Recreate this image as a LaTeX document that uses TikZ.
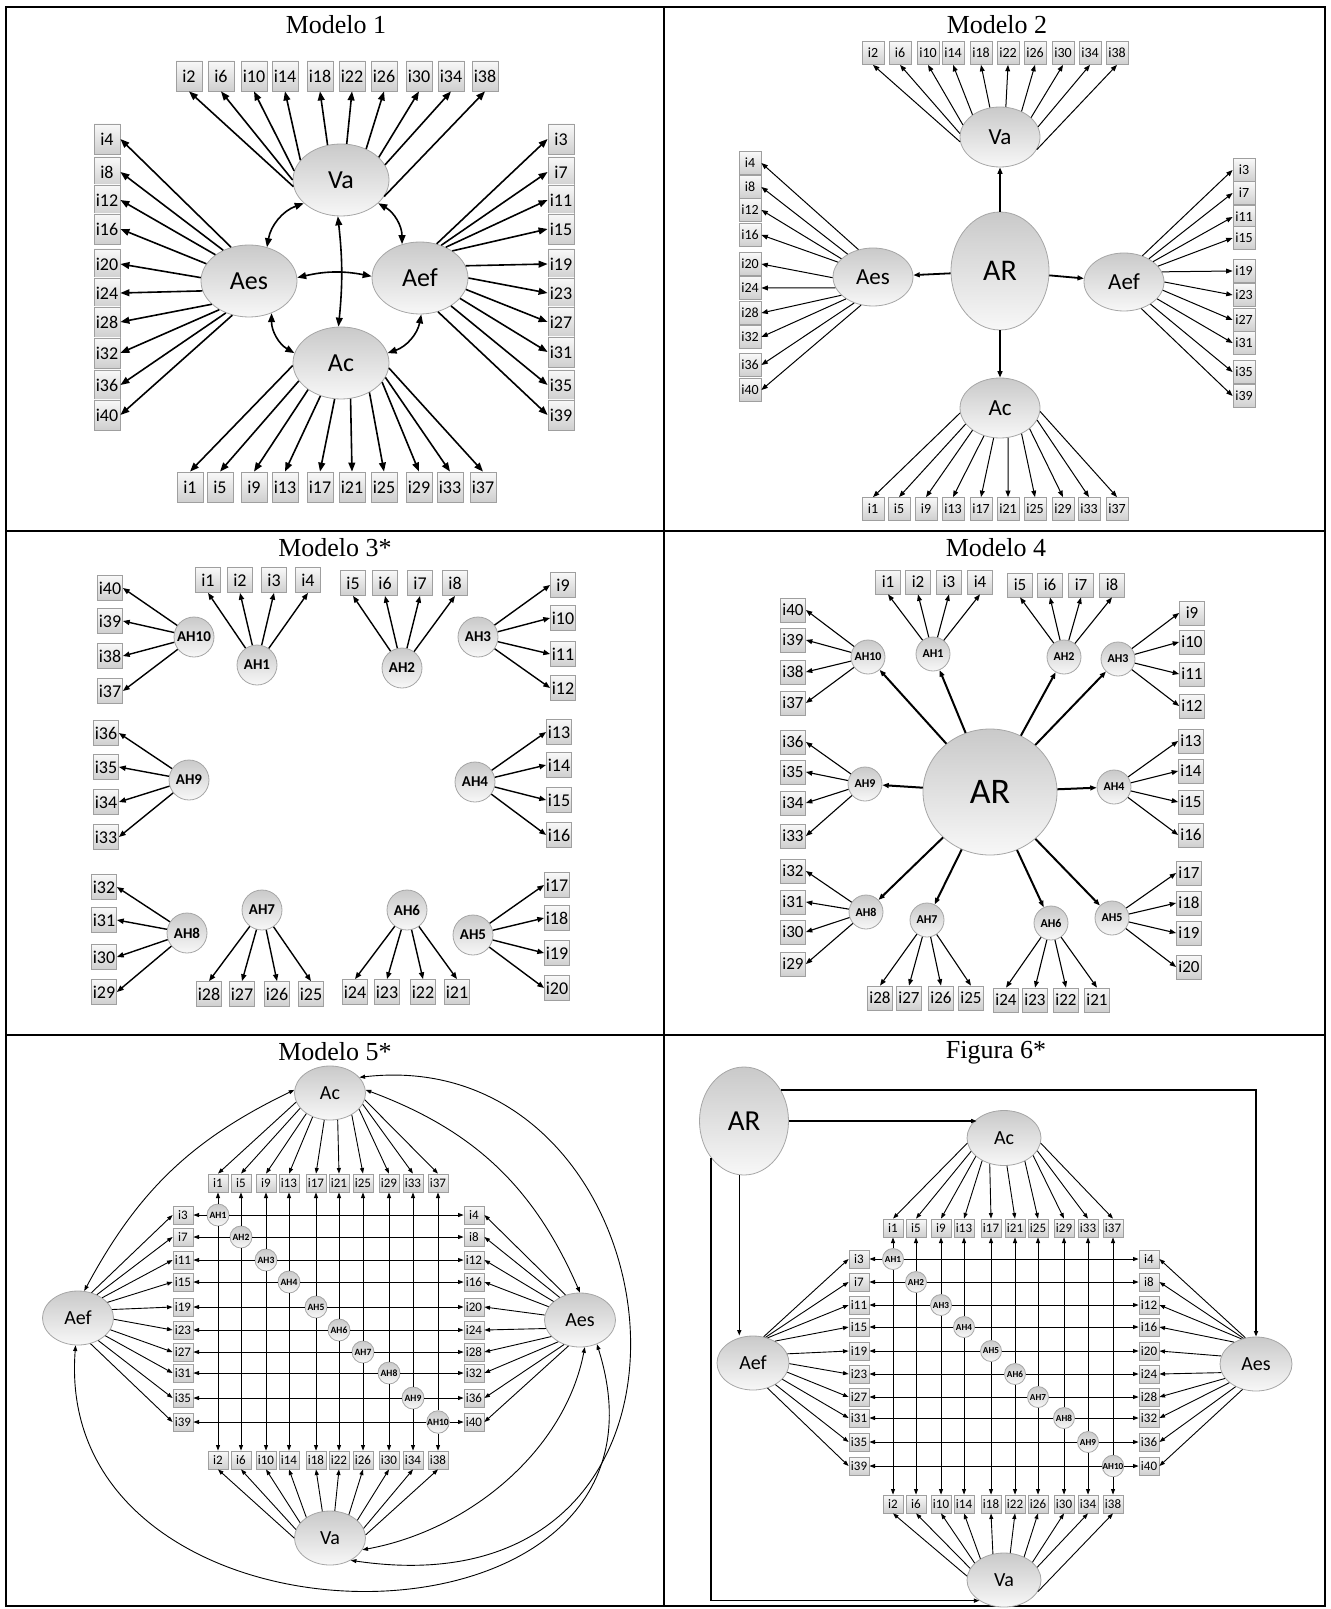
\documentclass[tikz,border=0pt]{standalone}
\usepackage{fontspec}
\setmainfont{Liberation Serif}
\newfontfamily\calib{Carlito}
\usetikzlibrary{arrows.meta,shapes.geometric}

\tikzset{
  lat/.style={ellipse, draw=gray!70, top color=gray!42, bottom color=gray!6, inner sep=0pt, line width=0.4pt},
  obs/.style={rectangle, draw=gray!75, top color=gray!5, bottom color=gray!38, inner sep=0pt, line width=0.4pt},
  ahc/.style={circle, draw=gray!70, top color=gray!42, bottom color=gray!6, inner sep=0pt, line width=0.4pt},
  ptitle/.style={font=\fontsize{13}{15}\selectfont},
  frame/.style={line width=1.3pt},
  ld/.style={->, black},
  cov/.style={<->, black},
  arr/.style={->, black},
}

\begin{document}
\begin{tikzpicture}[x=0.5pt, y=-0.5pt]
\useasboundingbox (0,0) rectangle (1330,1609);

% table frame
\draw[frame] (6,7) rectangle (1325,1606);
\draw[frame] (664,7) -- (664,1606);
\draw[frame] (6,531) -- (1325,531) (6,1035) -- (1325,1035);

% ---- Modelo 1 ----
\begin{scope}[>={Triangle[length=4.5pt,width=3.4pt]},
    ld/.append style={line width=0.8pt}, cov/.append style={line width=0.8pt},
    lat/.append style={minimum width=48pt, minimum height=36pt, font=\calib\fontsize{13}{15}\selectfont},
    obs/.append style={minimum width=13pt, minimum height=15pt, font=\calib\fontsize{9}{10}\selectfont}]
  \node[ptitle] (t1) at (336,25) {Modelo 1};
  \node[lat] (m1va) at (341,180) {Va};
  \node[lat] (m1aes) at (249,281) {Aes};
  \node[lat] (m1aef) at (420,278) {Aef};
  \node[lat] (m1ac) at (341,363) {Ac};
  \foreach \n/\x/\a in {2/189/188, 6/221/180, 10/254/169, 14/285/154, 18/320/111, 22/352/81, 26/384/51, 30/419/31, 34/451/19, 38/485/339} {
    \node[obs] (m1i\n) at (\x,76) {i\n};
    \draw[ld] (m1va.\a) -- (m1i\n.south);
  }
  \foreach \n/\y/\a in {4/139/118, 8/172/130, 12/200/142, 16/229/158, 20/264/176, 24/293/192, 28/322/212, 32/353/224, 36/385/234, 40/415/244} {
    \node[obs] (m1i\n) at (107,\y) {i\n};
    \draw[ld] (m1aes.\a) -- (m1i\n.east);
  }
  \foreach \n/\y/\a in {3/139/64, 7/172/57, 11/200/50, 15/229/40, 19/264/15, 23/293/0, 27/322/346, 31/352/333, 35/385/318, 39/415/298} {
    \node[obs] (m1i\n) at (561,\y) {i\n};
    \draw[ld] (m1aef.\a) -- (m1i\n.west);
  }
  \foreach \n/\x/\a in {1/190/183, 5/220/203, 9/254/219, 13/285/238, 17/320/260, 21/352/285, 25/384/314, 29/419/335, 33/450/342, 37/483/354} {
    \node[obs] (m1i\n) at (\x,487) {i\n};
    \draw[ld] (m1ac.\a) -- (m1i\n.north);
  }
  \draw[cov] (m1va.212) to[bend right=30] (m1aes.62);
  \draw[cov] (m1va.328) to[bend left=30] (m1aef.118);
  \draw[cov] (m1aes.4) to[bend left=12] (m1aef.178);
  \draw[cov] (m1aes.305) to[bend right=30] (m1ac.168);
  \draw[cov] (m1aef.272) to[bend left=30] (m1ac.12);
  \draw[cov] (m1va.265) to[bend left=6] (m1ac.94);
\end{scope}

% ---- Modelo 2 ----
\begin{scope}[>={Triangle[length=3.2pt,width=2.4pt]},
    ld/.append style={line width=0.5pt}, arr/.append style={line width=0.9pt},
    lat/.append style={minimum width=40pt, minimum height=29pt, font=\calib\fontsize{11.5}{13}\selectfont},
    obs/.append style={minimum width=11pt, minimum height=11.5pt, font=\calib\fontsize{7}{8}\selectfont}]
  \node[ptitle] (t2) at (997,25) {Modelo 2};
  \node[lat, minimum height=30pt] (m2va) at (1000,137) {Va};
  \node[lat, minimum width=49pt, minimum height=59pt, font=\calib\fontsize{15}{17}\selectfont] (m2ar) at (1000,271) {AR};
  \node[lat] (m2aes) at (873,277) {Aes};
  \node[lat] (m2aef) at (1124,282) {Aef};
  \node[lat, minimum height=30pt] (m2ac) at (1000,408) {Ac};
  \draw[arr] (m2ar) -- (m2va);
  \draw[arr] (m2ar) -- (m2aes);
  \draw[arr] (m2ar) -- (m2aef);
  \draw[arr] (m2ar) -- (m2ac);
  \foreach \n/\x/\a in {2/873/187, 6/900/175, 10/928/162, 14/953/141, 18/981/109, 22/1008/79, 26/1035/50, 30/1063/32, 34/1090/15, 38/1117/341} {
    \node[obs] (m2i\n) at (\x,53) {i\n};
    \draw[ld] (m2va.\a) -- (m2i\n.south);
  }
  \foreach \n/\y/\a in {4/163/118, 8/187/138, 12/210/150, 16/235/157, 20/264/181, 24/288/196, 28/313/210, 32/337/219, 36/365/234, 40/390/247} {
    \node[obs] (m2i\n) at (750,\y) {i\n};
    \draw[ld] (m2aes.\a) -- (m2i\n.east);
  }
  \foreach \n/\y/\a in {3/170/55, 7/193/43, 11/217/35, 15/238/25, 19/271/15, 23/295/0, 27/320/348, 31/343/333, 35/372/320, 39/396/303} {
    \node[obs] (m2i\n) at (1244,\y) {i\n};
    \draw[ld] (m2aef.\a) -- (m2i\n.west);
  }
  \foreach \n/\x/\a in {1/873/187, 5/899/205, 9/926/219, 13/953/240, 17/981/258, 21/1008/285, 25/1035/310, 29/1063/325, 33/1089/342, 37/1117/355} {
    \node[obs] (m2i\n) at (\x,509) {i\n};
    \draw[ld] (m2ac.\a) -- (m2i\n.north);
  }
\end{scope}

% ---- Modelo 3 ----
\begin{scope}[>={Triangle[length=3.4pt,width=2.6pt]},
    ld/.append style={line width=0.7pt},
    obs/.append style={minimum width=12.5pt, minimum height=12.5pt, font=\calib\fontsize{9}{10}\selectfont},
    ahc/.append style={minimum size=20pt, font=\calib\bfseries\fontsize{7.5}{8}\selectfont}]
  \node[ptitle] (t3) at (335,548) {Modelo 3*};
  \node[ahc] (m3ah1) at (257,665) {AH1};
  \node[ahc] (m3ah2) at (402,668) {AH2};
  \node[ahc] (m3ah3) at (478,637) {AH3};
  \node[ahc] (m3ah4) at (475,782) {AH4};
  \node[ahc] (m3ah5) at (473,935) {AH5};
  \node[ahc] (m3ah6) at (407,910) {AH6};
  \node[ahc] (m3ah7) at (262,910) {AH7};
  \node[ahc] (m3ah8) at (187,933) {AH8};
  \node[ahc] (m3ah9) at (189,780) {AH9};
  \node[ahc] (m3ah10) at (194,637) {AH10};
  \foreach \n/\x in {1/208, 2/240, 3/274, 4/308}
    {\node[obs] (m3i\n) at (\x,580) {i\n}; \draw[ld] (m3ah1) -- (m3i\n.south);}
  \foreach \n/\x in {5/353, 6/385, 7/420, 8/455}
    {\node[obs] (m3i\n) at (\x,583) {i\n}; \draw[ld] (m3ah2) -- (m3i\n.south);}
  \foreach \n/\y in {9/585, 10/618, 11/654, 12/688}
    {\node[obs] (m3i\n) at (563,\y) {i\n}; \draw[ld] (m3ah3) -- (m3i\n.west);}
  \foreach \n/\y in {13/732, 14/765, 15/800, 16/835}
    {\node[obs] (m3i\n) at (559,\y) {i\n}; \draw[ld] (m3ah4) -- (m3i\n.west);}
  \foreach \n/\y in {17/885, 18/918, 19/953, 20/988}
    {\node[obs] (m3i\n) at (557,\y) {i\n}; \draw[ld] (m3ah5) -- (m3i\n.west);}
  \foreach \n/\x in {21/457, 22/423, 23/387, 24/355}
    {\node[obs] (m3i\n) at (\x,992) {i\n}; \draw[ld] (m3ah6) -- (m3i\n.north);}
  \foreach \n/\x in {25/311, 26/277, 27/242, 28/209}
    {\node[obs] (m3i\n) at (\x,994) {i\n}; \draw[ld] (m3ah7) -- (m3i\n.north);}
  \foreach \n/\y in {29/992, 30/957, 31/920, 32/887}
    {\node[obs] (m3i\n) at (104,\y) {i\n}; \draw[ld] (m3ah8) -- (m3i\n.east);}
  \foreach \n/\y in {33/837, 34/802, 35/767, 36/733}
    {\node[obs] (m3i\n) at (106,\y) {i\n}; \draw[ld] (m3ah9) -- (m3i\n.east);}
  \foreach \n/\y in {37/691, 38/656, 39/621, 40/588}
    {\node[obs] (m3i\n) at (110,\y) {i\n}; \draw[ld] (m3ah10) -- (m3i\n.east);}
\end{scope}

% ---- Modelo 4 ----
\begin{scope}[>={Triangle[length=3.2pt,width=2.4pt]},
    ld/.append style={line width=0.55pt}, arr/.append style={line width=1pt},
    obs/.append style={minimum width=12.5pt, minimum height=12pt, font=\calib\fontsize{8.5}{10}\selectfont},
    ahc/.append style={minimum size=17pt, font=\calib\bfseries\fontsize{6}{7}\selectfont}]
  \node[ptitle] (t4) at (996,548) {Modelo 4};
  \node[lat, minimum width=67pt, minimum height=63pt, font=\calib\fontsize{18}{20}\selectfont] (m4ar) at (990,792) {AR};
  \node[ahc] (m4ah1) at (933,654) {AH1};
  \node[ahc] (m4ah2) at (1064,657) {AH2};
  \node[ahc] (m4ah3) at (1118,659) {AH3};
  \node[ahc] (m4ah4) at (1114,787) {AH4};
  \node[ahc] (m4ah5) at (1112,918) {AH5};
  \node[ahc] (m4ah6) at (1051,923) {AH6};
  \node[ahc] (m4ah7) at (927,920) {AH7};
  \node[ahc] (m4ah8) at (866,912) {AH8};
  \node[ahc] (m4ah9) at (865,784) {AH9};
  \node[ahc] (m4ah10) at (868,657) {AH10};
  \foreach \k in {1,...,10} \draw[arr] (m4ar) -- (m4ah\k);
  \foreach \n/\x in {1/888, 2/918, 3/949, 4/980}
    {\node[obs] (m4i\n) at (\x,582) {i\n}; \draw[ld] (m4ah1) -- (m4i\n.south);}
  \foreach \n/\x in {5/1020, 6/1050, 7/1081, 8/1112}
    {\node[obs] (m4i\n) at (\x,585) {i\n}; \draw[ld] (m4ah2) -- (m4i\n.south);}
  \foreach \n/\y in {9/613, 10/642, 11/674, 12/706}
    {\node[obs] (m4i\n) at (1192,\y) {i\n}; \draw[ld] (m4ah3) -- (m4i\n.west);}
  \foreach \n/\y in {13/741, 14/771, 15/802, 16/835}
    {\node[obs] (m4i\n) at (1191,\y) {i\n}; \draw[ld] (m4ah4) -- (m4i\n.west);}
  \foreach \n/\y in {17/873, 18/903, 19/933, 20/967}
    {\node[obs] (m4i\n) at (1189,\y) {i\n}; \draw[ld] (m4ah5) -- (m4i\n.west);}
  \foreach \n/\x in {21/1097, 22/1066, 23/1035, 24/1006}
    {\node[obs] (m4i\n) at (\x,1000) {i\n}; \draw[ld] (m4ah6) -- (m4i\n.north);}
  \foreach \n/\x in {25/971, 26/941, 27/909, 28/880}
    {\node[obs] (m4i\n) at (\x,998) {i\n}; \draw[ld] (m4ah7) -- (m4i\n.north);}
  \foreach \n/\y in {29/964, 30/932, 31/902, 32/871}
    {\node[obs] (m4i\n) at (793,\y) {i\n}; \draw[ld] (m4ah8) -- (m4i\n.east);}
  \foreach \n/\y in {33/836, 34/803, 35/772, 36/742}
    {\node[obs] (m4i\n) at (793,\y) {i\n}; \draw[ld] (m4ah9) -- (m4i\n.east);}
  \foreach \n/\y in {37/703, 38/672, 39/640, 40/610}
    {\node[obs] (m4i\n) at (793,\y) {i\n}; \draw[ld] (m4ah10) -- (m4i\n.east);}
\end{scope}

% ---- Modelo 5 ----
\begin{scope}[>={Triangle[length=2.8pt,width=2pt]},
    ld/.append style={line width=0.45pt}, cov/.append style={line width=0.45pt},
    lat/.append style={minimum width=35.5pt, minimum height=27pt, font=\calib\fontsize{10}{12}\selectfont},
    obs/.append style={minimum width=10pt, minimum height=9pt, font=\calib\fontsize{6.5}{7.5}\selectfont},
    ahc/.append style={minimum size=11pt, font=\calib\bfseries\fontsize{4.8}{5.5}\selectfont}]
  \node[ptitle] (t5) at (335,1052) {Modelo 5*};
  \node[lat] (m5ac) at (330,1093) {Ac};
  \node[lat] (m5va) at (330,1538) {Va};
  \node[lat] (m5aef) at (78,1318) {Aef};
  \node[lat] (m5aes) at (580,1320) {Aes};
  \foreach \k/\cx/\ry/\angc/\angv/\angf/\angs in {1/218/1215/195/180/62/120, 2/241/1237/207/166/51/132, 3/266/1260/221/153/40/145, 4/289/1282/234/139/28/157, 5/316/1307/258/106/14/172, 6/339/1330/286/80/358/194, 7/363/1352/315/51/340/210, 8/389/1373/331/33/327/225, 9/413/1398/341/16/312/237, 10/438/1422/349/5/296/246} {
    \pgfmathtruncatemacro{\na}{4*\k-3}
    \pgfmathtruncatemacro{\nb}{4*\k-2}
    \pgfmathtruncatemacro{\nc}{4*\k-1}
    \pgfmathtruncatemacro{\nd}{4*\k}
    \node[obs] (m5i\na) at (\cx,1183) {i\na};
    \node[obs] (m5i\nb) at (\cx,1460) {i\nb};
    \node[obs] (m5i\nc) at (183,\ry) {i\nc};
    \node[obs] (m5i\nd) at (474,\ry) {i\nd};
    \node[ahc] (m5ah\k) at (\cx,\ry) {AH\k};
    \draw[ld] (m5ah\k) -- (m5i\na.south);
    \draw[ld] (m5ah\k) -- (m5i\nb.north);
    \draw[ld] (m5ah\k) -- (m5i\nc.east);
    \draw[ld] (m5ah\k) -- (m5i\nd.west);
    \draw[ld] (m5ac.\angc) -- (m5i\na.north);
    \draw[ld] (m5va.\angv) -- (m5i\nb.south);
    \draw[ld] (m5aef.\angf) -- (m5i\nc.west);
    \draw[ld] (m5aes.\angs) -- (m5i\nd.east);
  }
  \draw[cov] (m5ac.175) to[bend right=18] (m5aef.77);
  \draw[cov] (m5ac.5) to[bend left=23] (m5aes.90);
  \draw[cov] (m5ac.28) .. controls (685,1040) and (755,1620) .. (m5va.313);
  \draw[cov] (m5aes.280) .. controls (565,1450) and (470,1530) .. (m5va.340);
  \draw[cov] (m5aef.265) .. controls (50,1672) and (700,1672) .. (m5aes.305);
\end{scope}

% ---- Figura 6 ----
\begin{scope}[>={Triangle[length=2.8pt,width=2pt]},
    ld/.append style={line width=0.45pt}, arr/.append style={line width=0.75pt},
    lat/.append style={minimum width=36pt, minimum height=27pt, font=\calib\fontsize{10}{12}\selectfont},
    obs/.append style={minimum width=10pt, minimum height=9pt, font=\calib\fontsize{6.5}{7.5}\selectfont},
    ahc/.append style={minimum size=10.5pt, font=\calib\bfseries\fontsize{4.6}{5.5}\selectfont}]
  \node[ptitle] (t6) at (996,1053) {Figura 6*};
  \node[lat, minimum width=44.5pt, minimum height=54pt, font=\calib\fontsize{14.5}{16}\selectfont] (m6ar) at (744,1121) {AR};
  \node[lat, minimum width=37pt, minimum height=27.5pt] (m6ac) at (1004,1138) {Ac};
  \node[lat] (m6aef) at (753,1363) {Aef};
  \node[lat] (m6aes) at (1256,1364) {Aes};
  \node[lat, minimum width=37pt] (m6va) at (1004,1580) {Va};
  \draw[arr] (m6ar.east) -- (m6ar.east -| m6ac.145);
  \draw[arr] (m6ar.40) -| (m6aes.north);
  \draw[arr] (m6ar.265) -- (m6ar.265 |- m6aef.north);
  \draw[arr] (m6ar.228) |- (m6va.220);
  \foreach \k/\cx/\ry/\angc/\angv/\angf/\angs in {1/893/1259/188/174/68/112, 2/916/1282/202/161/64/116, 3/941/1305/213/150/60/120, 4/964/1327/226/138/45/135, 5/991/1351/241/113/15/167, 6/1015/1374/276/77/359/194, 7/1038/1397/312/49/345/205, 8/1064/1418/329/32/331/215, 9/1088/1442/339/21/316/228, 10/1113/1466/352/341/300/242} {
    \pgfmathtruncatemacro{\na}{4*\k-3}
    \pgfmathtruncatemacro{\nb}{4*\k-2}
    \pgfmathtruncatemacro{\nc}{4*\k-1}
    \pgfmathtruncatemacro{\nd}{4*\k}
    \node[obs] (m6i\na) at (\cx,1228) {i\na};
    \node[obs] (m6i\nb) at (\cx,1504) {i\nb};
    \node[obs] (m6i\nc) at (859,\ry) {i\nc};
    \node[obs] (m6i\nd) at (1149,\ry) {i\nd};
    \node[ahc] (m6ah\k) at (\cx,\ry) {AH\k};
    \draw[ld] (m6ah\k) -- (m6i\na.south);
    \draw[ld] (m6ah\k) -- (m6i\nb.north);
    \draw[ld] (m6ah\k) -- (m6i\nc.east);
    \draw[ld] (m6ah\k) -- (m6i\nd.west);
    \draw[ld] (m6ac.\angc) -- (m6i\na.north);
    \draw[ld] (m6va.\angv) -- (m6i\nb.south);
    \draw[ld] (m6aef.\angf) -- (m6i\nc.west);
    \draw[ld] (m6aes.\angs) -- (m6i\nd.east);
  }
\end{scope}
\end{tikzpicture}
\end{document}
